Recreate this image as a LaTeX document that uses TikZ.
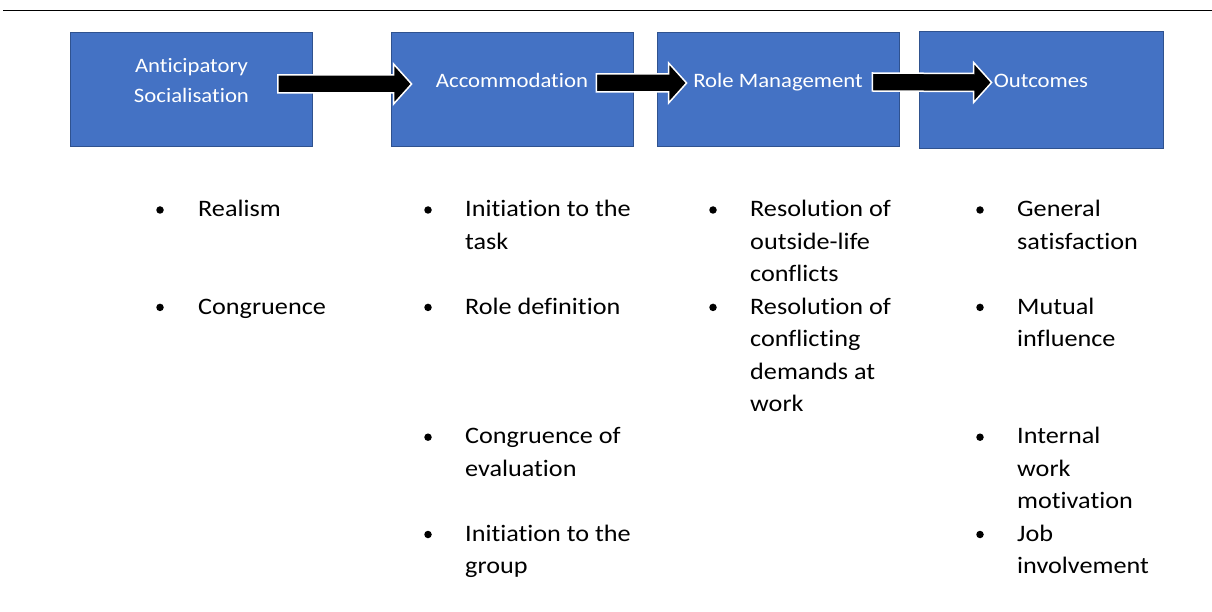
\documentclass[tikz,border=0pt]{standalone}
\usepackage{fontspec}
\setmainfont{Carlito}[Ligatures=NoCommon, FakeStretch=1.11]
\usetikzlibrary{calc}

\definecolor{stageblue}{HTML}{4472C4}
\definecolor{stageedge}{HTML}{2F528F}

% fat black arrow with a white rim, from #1 to the tip #2
\newcommand{\blockarrow}[2]{%
  \draw[barrow] ($(#1)+(0,-9)$) -- ($(#2)+(-18,-9)$) -- ($(#2)+(-18,-20)$) -- (#2)
    -- ($(#2)+(-18,20)$) -- ($(#2)+(-18,9)$) -- ($(#1)+(0,9)$) -- cycle;}

\begin{document}
\begin{tikzpicture}[x=1pt, y=-1pt]
    \tikzset{
        stage/.style={draw=stageedge, fill=stageblue, line width=0.8pt, minimum width=242pt, minimum height=114pt, inner sep=0},
        stagetext/.style={anchor=north, text=white, align=center, inner sep=0, font=\fontsize{20.5}{29.5}\selectfont},
        item/.style={anchor=north west, align=left, inner sep=0, font=\fontsize{23.6}{32.45}\selectfont},
        dot/.style={circle, fill=black, inner sep=0, minimum size=7.5pt},
        barrow/.style={fill=black, draw=white, line width=1.5pt, line join=miter}
    }
    \useasboundingbox (0,0) rectangle (1212,612);
    \draw[line width=1pt] (3,11) -- (1212,11);

    % Stages
    \node[stage] (antic) at (191.5, 89) {};
    \node[stage] (accom) at (512, 89) {};
    \node[stage] (rolem) at (778, 89) {};
    \node[stage, minimum width=244pt, minimum height=117pt] (outc) at (1041, 89.5) {};

    \node[stagetext] (antict) at (191.5, 52) {\strut Anticipatory\\Socialisation};
    \node[stagetext] (accomt) at (512, 66.5) {\strut Accommodation};
    \node[stagetext] (rolemt) at (778, 66.5) {\strut Role Management};
    \node[stagetext] (outct) at (1041, 66.5) {\strut Outcomes};

    % Arrows between stages
    \coordinate (a1s) at ([xshift=-35pt, yshift=5pt]antic.east);
    \coordinate (a1e) at ([xshift=21pt, yshift=5pt]accom.west);
    \coordinate (a2s) at ([xshift=-37pt, yshift=6pt]accom.east);
    \coordinate (a2e) at ([xshift=30pt, yshift=6pt]rolem.west);
    \coordinate (a3s) at ([xshift=-27pt, yshift=7pt]rolem.east);
    \coordinate (a3e) at ([xshift=73pt, yshift=7pt]outc.west);
    \blockarrow{a1s}{a1e}
    \blockarrow{a2s}{a2e}
    \blockarrow{a3s}{a3e}

    % Anticipatory socialisation
    \node[dot] (b11) at (160, 210) {};
    \node[item] (real) at (198, 193.8) {\strut Realism};
    \node[dot] (b12) at (160, 307.4) {};
    \node[item] (cong) at (198, 291.2) {\strut Congruence};

    % Accommodation
    \node[dot] (b21) at (428, 210) {};
    \node[item] (task) at (465, 193.8) {\strut Initiation to the\\task};
    \node[dot] (b22) at (428, 307.4) {};
    \node[item] (rdef) at (465, 291.2) {\strut Role definition};
    \node[dot] (b23) at (428, 437.2) {};
    \node[item] (ceval) at (465, 421.0) {\strut Congruence of\\evaluation};
    \node[dot] (b24) at (428, 534.5) {};
    \node[item] (group) at (465, 518.3) {\strut Initiation to the\\group};

    % Role management
    \node[dot] (b31) at (713, 210) {};
    \node[item] (olife) at (750, 193.8) {\strut Resolution of\\outside-life\\conflicts};
    \node[dot] (b32) at (713, 307.4) {};
    \node[item] (cdem) at (750, 291.2) {\strut Resolution of\\conflicting\\demands at\\work};

    % Outcomes
    \node[dot] (b41) at (980, 210) {};
    \node[item] (gsat) at (1017, 193.8) {\strut General\\satisfaction};
    \node[dot] (b42) at (980, 307.4) {};
    \node[item] (minf) at (1017, 291.2) {\strut Mutual\\influence};
    \node[dot] (b43) at (980, 437.2) {};
    \node[item] (iwm) at (1017, 421.0) {\strut Internal\\work\\motivation};
    \node[dot] (b44) at (980, 534.5) {};
    \node[item] (jinv) at (1017, 518.3) {\strut Job\\involvement};
\end{tikzpicture}
\end{document}
